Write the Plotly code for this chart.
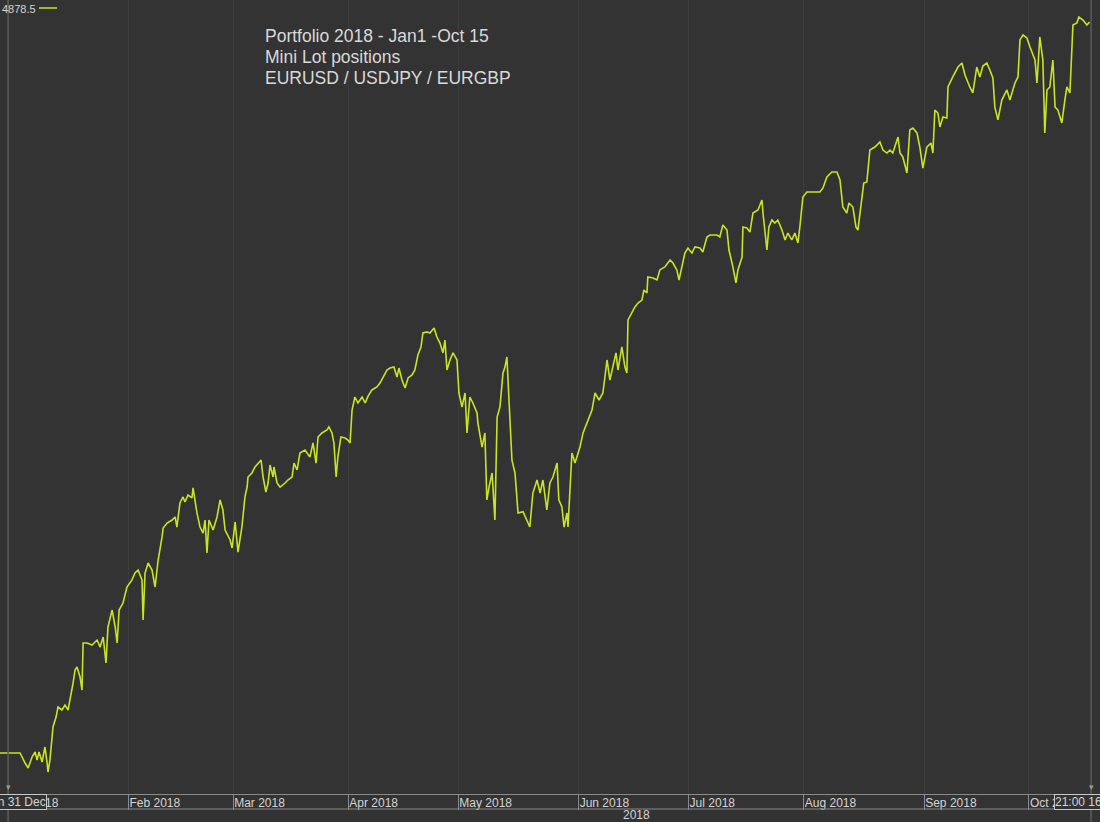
import plotly.graph_objects as go

# equity curve of the portfolio, cumulative pips
stamps = [
    # Dec / Jan
    "2017-12-28 11:00", "2018-01-03 07:00", "2018-01-04 06:00", "2018-01-04 20:00", "2018-01-05 14:00",
    "2018-01-08 04:00", "2018-01-08 13:00", "2018-01-08 22:00", "2018-01-09 12:00", "2018-01-10 01:00",
    "2018-01-10 11:00", "2018-01-10 15:00", "2018-01-11 00:00", "2018-01-11 10:00", "2018-01-11 14:00",
    "2018-01-12 04:00", "2018-01-12 13:00", "2018-01-15 07:00", "2018-01-15 21:00", "2018-01-16 11:00",
    "2018-01-16 20:00", "2018-01-17 10:00", "2018-01-17 19:00", "2018-01-18 04:00", "2018-01-18 18:00",
    "2018-01-19 03:00", "2018-01-19 08:00", "2018-01-22 02:00", "2018-01-23 01:00", "2018-01-24 00:00",
    "2018-01-24 14:00", "2018-01-25 04:00", "2018-01-25 17:00", "2018-01-26 02:00", "2018-01-26 21:00",
    "2018-01-29 11:00", "2018-01-29 20:00", "2018-01-30 05:00", "2018-01-30 23:00", "2018-01-31 17:00",
    # Feb
    "2018-02-01 16:00", "2018-02-02 06:00", "2018-02-02 20:00", "2018-02-05 14:00", "2018-02-05 19:00",
    "2018-02-06 04:00", "2018-02-06 18:00", "2018-02-07 12:00", "2018-02-08 02:00", "2018-02-08 16:00",
    "2018-02-09 10:00", "2018-02-09 15:00", "2018-02-12 09:00", "2018-02-13 08:00", "2018-02-13 22:00",
    "2018-02-14 06:00", "2018-02-14 20:00", "2018-02-15 10:00", "2018-02-15 19:00", "2018-02-16 09:00",
    "2018-02-19 03:00", "2018-02-19 08:00", "2018-02-20 02:00", "2018-02-20 16:00", "2018-02-21 06:00",
    "2018-02-21 15:00", "2018-02-22 00:00", "2018-02-22 09:00", "2018-02-23 04:00", "2018-02-23 22:00",
    "2018-02-26 12:00", "2018-02-27 01:00", "2018-02-27 11:00", "2018-02-28 10:00", "2018-02-28 19:00",
    # Mar
    "2018-03-01 09:00", "2018-03-01 22:00", "2018-03-02 16:00", "2018-03-05 06:00", "2018-03-05 16:00",
    "2018-03-05 20:00", "2018-03-06 14:00", "2018-03-07 04:00", "2018-03-07 18:00", "2018-03-08 08:00",
    "2018-03-08 17:00", "2018-03-09 06:00", "2018-03-09 16:00", "2018-03-12 01:00", "2018-03-12 15:00",
    "2018-03-12 19:00", "2018-03-13 09:00", "2018-03-13 23:00", "2018-03-14 22:00", "2018-03-15 11:00",
    "2018-03-16 06:00", "2018-03-16 15:00", "2018-03-19 05:00", "2018-03-19 18:00", "2018-03-20 17:00",
    "2018-03-21 16:00", "2018-03-22 06:00", "2018-03-22 20:00", "2018-03-23 05:00", "2018-03-23 23:00",
    "2018-03-26 22:00", "2018-03-27 07:00", "2018-03-27 21:00", "2018-03-28 06:00", "2018-03-28 16:00",
    "2018-03-29 00:00", "2018-03-29 14:00", "2018-03-30 09:00", "2018-03-30 22:00",
    # Apr
    "2018-04-02 08:00", "2018-04-02 17:00", "2018-04-03 06:00", "2018-04-03 20:00", "2018-04-04 15:00",
    "2018-04-05 05:00", "2018-04-05 18:00", "2018-04-06 12:00", "2018-04-09 11:00", "2018-04-10 01:00",
    "2018-04-10 15:00", "2018-04-11 09:00", "2018-04-11 23:00", "2018-04-12 17:00", "2018-04-13 07:00",
    "2018-04-13 16:00", "2018-04-16 06:00", "2018-04-16 20:00", "2018-04-17 10:00", "2018-04-18 04:00",
    "2018-04-18 17:00", "2018-04-19 07:00", "2018-04-19 21:00", "2018-04-20 06:00", "2018-04-23 00:00",
    "2018-04-23 14:00", "2018-04-24 09:00", "2018-04-24 22:00", "2018-04-25 12:00", "2018-04-26 02:00",
    "2018-04-26 11:00", "2018-04-26 20:00", "2018-04-27 10:00", "2018-04-30 00:00", "2018-04-30 18:00",
    # May
    "2018-05-01 03:00", "2018-05-01 17:00", "2018-05-02 07:00", "2018-05-02 16:00", "2018-05-03 05:00",
    "2018-05-03 19:00", "2018-05-04 14:00", "2018-05-04 18:00", "2018-05-07 13:00", "2018-05-08 02:00",
    "2018-05-08 11:00", "2018-05-08 21:00", "2018-05-09 11:00", "2018-05-10 00:00", "2018-05-10 10:00",
    "2018-05-10 23:00", "2018-05-11 13:00", "2018-05-11 22:00", "2018-05-14 07:00", "2018-05-14 12:00",
    "2018-05-15 06:00", "2018-05-15 20:00", "2018-05-16 10:00", "2018-05-17 09:00", "2018-05-18 03:00",
    "2018-05-18 16:00", "2018-05-21 06:00", "2018-05-22 01:00", "2018-05-22 15:00", "2018-05-23 04:00",
    "2018-05-23 22:00", "2018-05-24 12:00", "2018-05-25 02:00", "2018-05-25 21:00", "2018-05-28 05:00",
    "2018-05-28 19:00", "2018-05-29 05:00", "2018-05-29 18:00", "2018-05-29 23:00", "2018-05-30 17:00",
    "2018-05-31 07:00",
    # Jun
    "2018-06-01 06:00", "2018-06-01 20:00", "2018-06-04 18:00", "2018-06-05 13:00", "2018-06-06 03:00",
    "2018-06-06 21:00", "2018-06-07 15:00", "2018-06-08 10:00", "2018-06-08 23:00", "2018-06-11 13:00",
    "2018-06-12 03:00", "2018-06-12 12:00", "2018-06-13 06:00", "2018-06-13 20:00", "2018-06-14 05:00",
    "2018-06-14 10:00", "2018-06-15 04:00", "2018-06-15 18:00", "2018-06-18 08:00", "2018-06-19 02:00",
    "2018-06-19 11:00", "2018-06-20 01:00", "2018-06-20 05:00", "2018-06-21 05:00", "2018-06-21 23:00",
    "2018-06-22 12:00", "2018-06-25 11:00", "2018-06-26 11:00", "2018-06-27 00:00", "2018-06-27 18:00",
    "2018-06-28 04:00", "2018-06-28 17:00", "2018-06-29 07:00", "2018-06-29 21:00",
    # Jul
    "2018-07-02 15:00", "2018-07-03 05:00", "2018-07-04 04:00", "2018-07-04 17:00", "2018-07-05 12:00",
    "2018-07-06 02:00", "2018-07-09 10:00", "2018-07-09 23:00", "2018-07-10 13:00", "2018-07-11 08:00",
    "2018-07-11 17:00", "2018-07-12 11:00", "2018-07-13 01:00", "2018-07-13 10:00", "2018-07-16 05:00",
    "2018-07-16 09:00", "2018-07-17 03:00", "2018-07-17 17:00", "2018-07-18 07:00", "2018-07-19 06:00",
    "2018-07-20 00:00", "2018-07-20 05:00", "2018-07-20 23:00", "2018-07-23 08:00", "2018-07-23 22:00",
    "2018-07-24 11:00", "2018-07-25 01:00", "2018-07-25 20:00", "2018-07-26 10:00", "2018-07-26 23:00",
    "2018-07-27 17:00", "2018-07-30 07:00", "2018-07-30 21:00", "2018-07-31 06:00", "2018-07-31 20:00",
    # Aug
    "2018-08-01 14:00", "2018-08-03 12:00", "2018-08-06 02:00", "2018-08-06 16:00", "2018-08-07 10:00",
    "2018-08-08 09:00", "2018-08-09 08:00", "2018-08-09 22:00", "2018-08-10 11:00", "2018-08-13 05:00",
    "2018-08-13 15:00", "2018-08-14 09:00", "2018-08-14 23:00", "2018-08-15 08:00", "2018-08-16 02:00",
    "2018-08-16 11:00", "2018-08-17 01:00", "2018-08-17 15:00", "2018-08-20 14:00", "2018-08-21 13:00",
    "2018-08-22 03:00", "2018-08-22 21:00", "2018-08-23 11:00", "2018-08-24 00:00", "2018-08-27 00:00",
    "2018-08-27 09:00", "2018-08-27 22:00", "2018-08-28 17:00", "2018-08-29 06:00", "2018-08-29 20:00",
    "2018-08-30 15:00", "2018-08-31 04:00", "2018-08-31 18:00",
    # Sep
    "2018-09-03 12:00", "2018-09-04 07:00", "2018-09-04 16:00", "2018-09-05 01:00", "2018-09-05 15:00",
    "2018-09-06 00:00", "2018-09-06 14:00", "2018-09-07 08:00", "2018-09-07 13:00", "2018-09-10 11:00",
    "2018-09-11 11:00", "2018-09-12 05:00", "2018-09-12 19:00", "2018-09-13 17:00", "2018-09-14 07:00",
    "2018-09-17 01:00", "2018-09-17 15:00", "2018-09-18 05:00", "2018-09-18 23:00", "2018-09-19 13:00",
    "2018-09-20 03:00", "2018-09-20 12:00", "2018-09-21 02:00", "2018-09-21 20:00", "2018-09-24 19:00",
    "2018-09-25 09:00", "2018-09-26 08:00", "2018-09-26 22:00", "2018-09-27 07:00", "2018-09-27 21:00",
    "2018-09-28 15:00",
    # Oct
    "2018-10-01 05:00", "2018-10-02 04:00", "2018-10-02 13:00", "2018-10-03 02:00", "2018-10-03 16:00",
    "2018-10-04 01:00", "2018-10-04 11:00", "2018-10-05 00:00", "2018-10-05 14:00", "2018-10-08 00:00",
    "2018-10-08 13:00", "2018-10-09 07:00", "2018-10-09 21:00", "2018-10-10 06:00", "2018-10-10 20:00",
    "2018-10-11 05:00", "2018-10-11 10:00", "2018-10-12 04:00", "2018-10-12 13:00", "2018-10-15 08:00",
    "2018-10-16 02:00", "2018-10-16 14:00",
]

pips = [
    # Dec / Jan
    0, 0, -67, -100, -27,
    7, -47, 7, -60, 40,
    -67, -127, -47, 133, 174,
    240, 307, 287, 320, 287,
    354, 467, 554, 574, 507,
    420, 734, 734, 721, 754,
    707, 774, 601, 841, 954,
    841, 734, 954, 1001, 1108,
    # Feb
    1155, 1201, 1221, 1155, 888,
    1201, 1268, 1221, 1108, 1288,
    1442, 1502, 1535, 1555, 1575,
    1508, 1669, 1709, 1675, 1722,
    1702, 1769, 1602, 1508, 1468,
    1555, 1335, 1555, 1488, 1575,
    1689, 1622, 1488, 1422, 1368,
    # Mar
    1542, 1341, 1508, 1709, 1775,
    1842, 1869, 1909, 1935, 1955,
    1842, 1742, 1802, 1922, 1842,
    1909, 1802, 1775, 1802, 1822,
    1842, 1935, 1889, 2002, 2022,
    1976, 2069, 1935, 2109, 2136,
    2156, 2176, 2136, 2069, 1842,
    1976, 2109, 2102, 2089,
    # Apr
    2069, 2289, 2376, 2336, 2376,
    2336, 2380, 2423, 2443, 2469,
    2509, 2556, 2569, 2576, 2509,
    2569, 2489, 2436, 2503, 2523,
    2556, 2656, 2710, 2803, 2810,
    2803, 2836, 2776, 2736, 2670,
    2756, 2556, 2623, 2670, 2623,
    # May
    2403, 2309, 2403, 2136, 2376,
    2336, 2269, 2202, 2042, 2136,
    1689, 1775, 1869, 1555, 2242,
    2309, 2536, 2576, 2643, 2489,
    1955, 1869, 1602, 1610, 1555,
    1508, 1735, 1822, 1735, 1822,
    1622, 1802, 1842, 1935, 1689,
    1642, 1508, 1602, 1508, 2002,
    1935,
    # Jun
    2042, 2136, 2222, 2289, 2403,
    2356, 2403, 2623, 2489, 2576,
    2670, 2556, 2710, 2576, 2536,
    2890, 2937, 2977, 3003, 3023,
    3090, 3070, 3177, 3170, 3157,
    3224, 3244, 3290, 3270, 3224,
    3157, 3244, 3337, 3370,
    # Jul
    3337, 3377, 3370, 3344, 3444,
    3457, 3457, 3444, 3524, 3490,
    3357, 3244, 3137, 3224, 3310,
    3511, 3504, 3477, 3604, 3624,
    3691, 3604, 3357, 3511, 3557,
    3537, 3557, 3490, 3424, 3470,
    3424, 3470, 3404, 3511, 3711,
    # Aug
    3744, 3744, 3744, 3771, 3844,
    3878, 3878, 3824, 3644, 3604,
    3671, 3644, 3511, 3490, 3691,
    3804, 3811, 4024, 4044, 4078,
    4024, 4004, 4024, 4004, 4111,
    4004, 3978, 3871, 4158, 4171,
    4138, 4044, 3904,
    # Sep
    4044, 4071, 4004, 4291, 4271,
    4178, 4245, 4238, 4445, 4512,
    4578, 4605, 4525, 4445, 4405,
    4578, 4512, 4585, 4605, 4558,
    4505, 4311, 4225, 4358, 4425,
    4358, 4472, 4512, 4759, 4792,
    4772,
    # Oct
    4712, 4625, 4472, 4779, 4625,
    4138, 4425, 4445, 4625, 4311,
    4291, 4205, 4358, 4445, 4405,
    4672, 4859, 4872, 4912, 4892,
    4859, 4878.5,
]

month_ticks = ["2018-01-01", "2018-02-01", "2018-03-01", "2018-04-02", "2018-05-01",
               "2018-06-01", "2018-07-02", "2018-08-01", "2018-09-03", "2018-10-01"]
month_labels = ["Jan 2018", "Feb 2018", "Mar 2018", "Apr 2018", "May 2018",
                "Jun 2018", "Jul 2018", "Aug 2018", "Sep 2018", "Oct 2018"]

title_lines = ["Portfolio 2018 - Jan1 -Oct 15", "Mini Lot positions", "EURUSD / USDJPY / EURGBP"]
last_value = "4878.5"
cursor_start = "Sun 31 Dec"
cursor_end = "21:00 16 Oct 18"

bg = "#333333"
line_col = "#c8e423"
frame_col = "#8a8a8a"
text_col = "#d4d4d4"

fig = go.Figure()
fig.add_trace(go.Scatter(x=stamps, y=pips, mode="lines",
                         line=dict(color=line_col, width=1.6)))

fig.update_layout(
    width=1100, height=822,
    margin=dict(l=0, r=0, t=0, b=28, autoexpand=False),
    paper_bgcolor=bg, plot_bgcolor=bg,
    showlegend=False,
    font=dict(family="Liberation Sans, Arial, sans-serif", color=text_col),
)

fig.update_xaxes(
    range=["2017-12-28 11:00", "2018-10-18 14:00"],
    rangebreaks=[dict(bounds=["sat", "mon"])],
    tickvals=month_ticks, ticktext=month_labels,
    ticks="outside", ticklen=15, tickcolor=frame_col, tickwidth=1,
    ticklabelposition="outside right", ticklabelstandoff=-2,
    tickfont=dict(size=12, color=text_col),
    showline=True, linecolor=frame_col, linewidth=1,
    showgrid=True, gridcolor="#3c3c3c", zeroline=False,
    automargin=False,
)
fig.update_yaxes(range=[-273.6, 5025.5], visible=False)

# lower border of the date band, year separators, legend swatch
fig.add_shape(type="line", xref="paper", yref="paper", x0=0, x1=1, y0=-0.0189, y1=-0.0189,
              line=dict(color=frame_col, width=1))
for edge in ["2018-01-01 00:00", "2018-10-16 21:00"]:
    fig.add_shape(type="line", xref="x", yref="paper", x0=edge, x1=edge, y0=-0.036, y1=1,
                  line=dict(color="#5c5c5c", width=1.5))
fig.add_shape(type="line", xref="paper", yref="paper", x0=39 / 1100, x1=57 / 1100,
              y0=1 - 8 / 794, y1=1 - 8 / 794, line=dict(color=line_col, width=1.5))

# three title lines, placed one under the other
for i, txt in enumerate(title_lines):
    fig.add_annotation(text=txt, xref="paper", yref="paper", x=263 / 1100,
                       y=1 - (36 + 21 * i) / 794,
                       xanchor="left", yanchor="middle", align="left", showarrow=False,
                       font=dict(size=17.5, color="#d9d9d9"))
fig.add_annotation(text=last_value, xref="paper", yref="paper", x=38 / 1100, y=1 - 9 / 794,
                   xanchor="right", yanchor="middle", showarrow=False,
                   font=dict(size=11, color=text_col))
fig.add_annotation(text="2018", xref="x", yref="paper", x="2018-06-18", y=-0.027,
                   xanchor="center", yanchor="middle", showarrow=False,
                   font=dict(size=12, color=text_col))
fig.add_annotation(text=cursor_start, xref="paper", yref="paper", x=47 / 1100, y=-0.0095,
                   xanchor="right", yanchor="middle", showarrow=False,
                   bgcolor=bg, bordercolor="#c8c8c8", borderwidth=1, borderpad=0,
                   font=dict(size=12, color=text_col))
fig.add_annotation(text=cursor_end, xref="paper", yref="paper", x=1054 / 1100, y=-0.0095,
                   xanchor="left", yanchor="middle", showarrow=False,
                   bgcolor=bg, bordercolor="#c8c8c8", borderwidth=1, borderpad=0,
                   font=dict(size=12, color=text_col))
for edge in ["2018-01-01 00:00", "2018-10-16 21:00"]:
    fig.add_annotation(text="▾", xref="x", yref="paper", x=edge, y=0.0,
                       xanchor="center", yanchor="bottom", showarrow=False,
                       font=dict(size=9, color="#9a9a9a"))

# the page's default body margin would shift the chart by 8px
fig.write_html("out.html", config={"displayModeBar": False},
               post_script="document.body.style.margin = '0px';")
